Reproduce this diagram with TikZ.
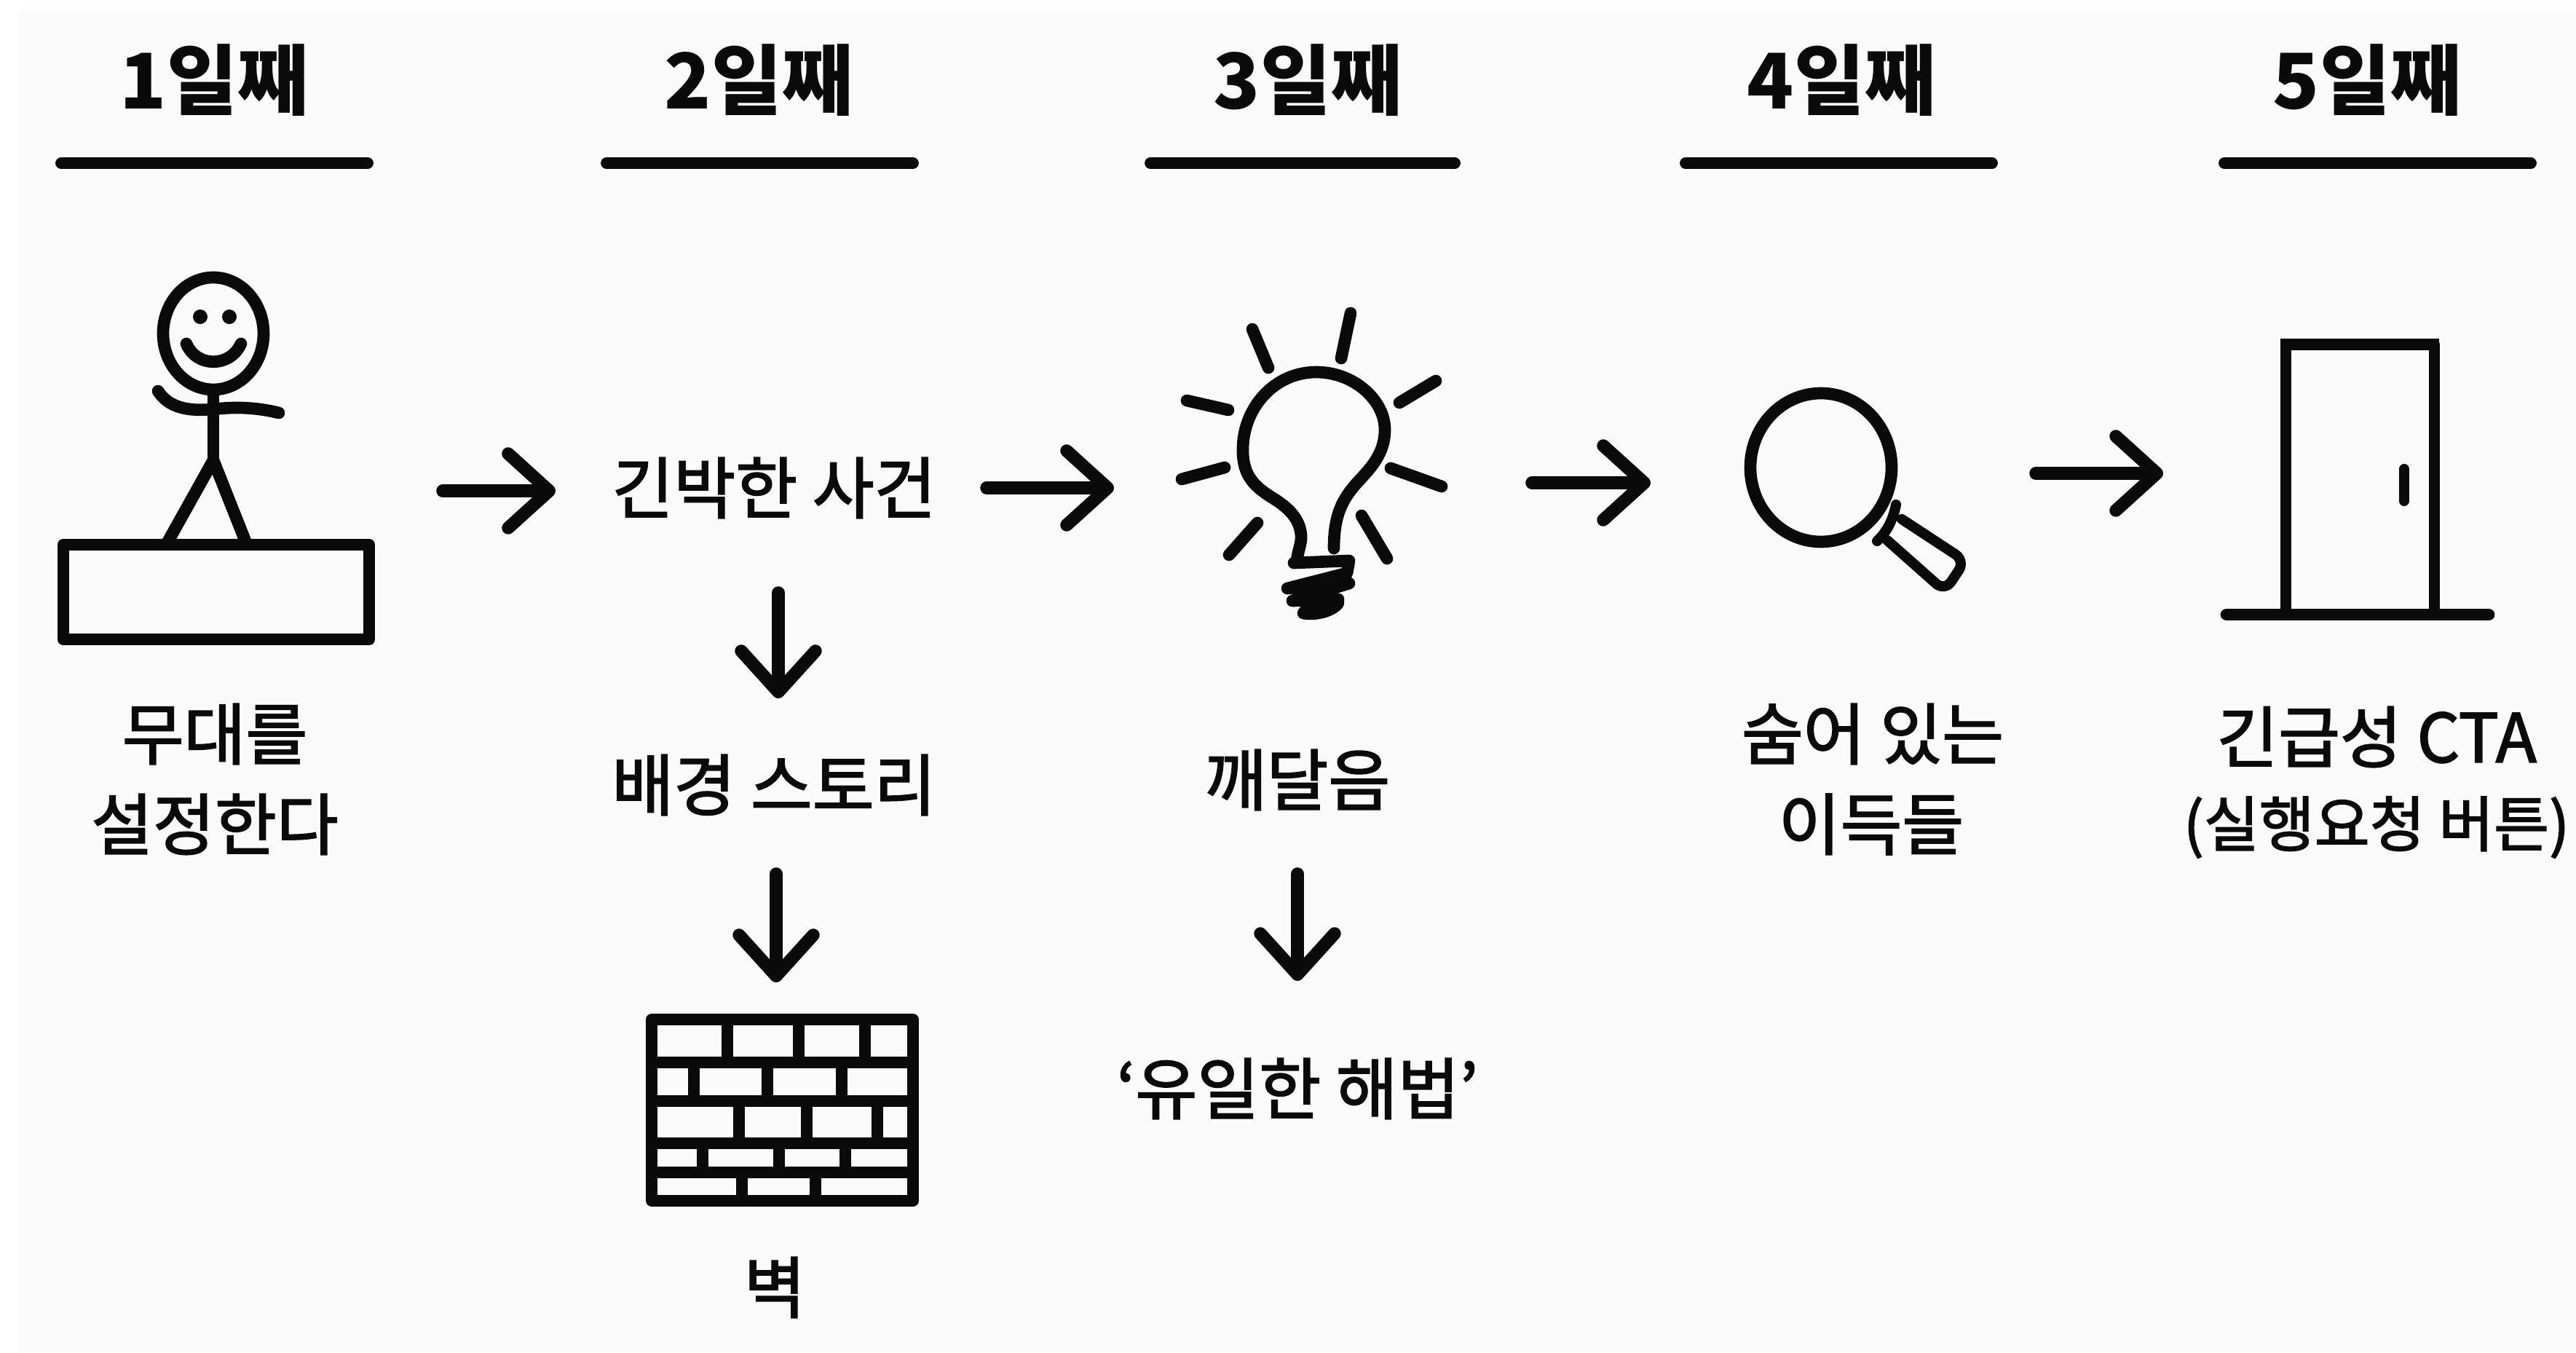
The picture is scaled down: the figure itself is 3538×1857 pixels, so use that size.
\documentclass[tikz,border=0pt]{standalone}
\usepackage{fontspec}
\usetikzlibrary{arrows.meta}
\setmainfont{Noto Sans CJK KR}
\newfontfamily\labelface[FakeBold=2]{Noto Sans CJK KR}
\definecolor{bgc}{HTML}{FAFAFA}
\definecolor{ink}{HTML}{0A0A0A}
\newcommand{\bodyfont}{\labelface\fontsize{52.5}{62}\selectfont}
\newcommand{\smallfont}{\labelface\fontsize{47}{56}\selectfont}
\newcommand{\headfont}{\fontsize{60}{70}\selectfont\bfseries}
\tikzset{
  x=0.02cm,y=-0.02cm,
  lbl/.style={inner sep=0pt,outer sep=0pt,text=ink,font=\bodyfont,align=center},
  head/.style={inner sep=0pt,outer sep=0pt,text=ink,font=\headfont},
  rulel/.style={draw=ink,line width=9pt,line cap=round},
  icon/.style={draw=ink,line width=9.5pt,line cap=round,line join=round},
  thin icon/.style={draw=ink,line width=8pt,line cap=round,line join=round},
  flow/.style={draw=ink,line width=10pt,line cap=round,
    -{Straight Barb[length=32pt,width=58pt,line width=10pt,round]}},
}
\begin{document}
\begin{tikzpicture}
\useasboundingbox (0,0) rectangle (3538,1857);
\fill[white] (0,0) rectangle (3538,1857);
\fill[bgc] (25,15) rectangle (3538,1857);
% headers
\node[head] (h1) at (294,110) {1일째};
\node[head] (h2) at (1042,110) {2일째};
\node[head] (h3) at (1796,110) {3일째};
\node[head] (h4) at (2529,110) {4일째};
\node[head] (h5) at (3251,110) {5일째};
\draw[rulel] (84,224) -- (505,224);
\draw[rulel] (833,224) -- (1254,224);
\draw[rulel] (1580,224) -- (1998,224);
\draw[rulel] (2315,224) -- (2736,224);
\draw[rulel] (3055,224) -- (3476,224);
% stick figure on the stage
\draw[icon] (87,748) rectangle (507,878);
\draw[icon] (293,458) ellipse [x radius=69,y radius=77];
\fill[ink] (275,435) circle [radius=10] (315,435) circle [radius=10];
\draw[icon] (256,472) .. controls (270,505) and (316,505) .. (331,472);
\draw[icon] (293,541) -- (293,632);
\draw[icon] (231,743) -- (293,632) -- (337,743);
\draw[icon] (217,537) .. controls (232,560) and (258,565) .. (293,562) .. controls (325,558) and (355,560) .. (383,567);
% labels
\node[lbl] (t1a) at (295,1008) {무대를};
\node[lbl] (t1b) at (295,1132) {설정한다};
\node[lbl] (t2) at (1063,670) {긴박한 사건};
\node[lbl] (t3) at (1063,1078) {배경 스토리};
\node[lbl] (t4) at (1064,1768) {벽};
\node[lbl] (t5) at (1782,1071) {깨달음};
\node[lbl] (t6) at (1782,1495) {‘유일한 해법’};
\node[lbl] (t7a) at (2572,1008) {숨어 있는};
\node[lbl] (t7b) at (2570,1132) {이득들};
\node[lbl] (t8a) at (3264,1012) {긴급성 CTA};
\node[lbl,font=\smallfont] (t8b) at (3264,1136) {(실행요청 버튼)};
% arrows
\coordinate (a1s) at (608,674); \coordinate (a1e) at (763,674);
\coordinate (a2s) at (1355,670); \coordinate (a2e) at (1530,670);
\coordinate (a3s) at (2104,663); \coordinate (a3e) at (2267,663);
\coordinate (a4s) at (2796,650); \coordinate (a4e) at (2971,650);
\coordinate (d1s) at (1069,814); \coordinate (d1e) at (1069,959);
\coordinate (d2s) at (1066,1200); \coordinate (d2e) at (1066,1349);
\coordinate (d3s) at (1782,1200); \coordinate (d3e) at (1782,1347);
\foreach \s/\e in {a1s/a1e,a2s/a2e,a3s/a3e,a4s/a4e,d1s/d1e,d2s/d2e,d3s/d3e}
  \draw[flow] (\s) -- (\e);
% wall
\begin{scope}[line width=9pt,draw=ink]
\draw[ink,line join=round] (895,1400) rectangle (1254,1649);
\foreach \yy in {1459,1512,1570,1610} \draw[ink] (895,\yy) -- (1254,\yy);
\foreach \xx in {999,1097,1188} \draw[ink] (\xx,1400) -- (\xx,1459);
\foreach \xx in {953,1054,1156} \draw[ink] (\xx,1459) -- (\xx,1512);
\foreach \xx in {1015,1108,1205} \draw[ink] (\xx,1512) -- (\xx,1570);
\foreach \xx in {965,1070,1161} \draw[ink] (\xx,1570) -- (\xx,1610);
\foreach \xx in {1019,1120} \draw[ink] (\xx,1610) -- (\xx,1649);
\end{scope}
% bulb
\draw[icon] (1720,452)--(1742,505) (1855,430)--(1842,492) (1972,523)--(1922,553)
  (1980,668)--(1910,643) (1905,767)--(1870,708) (1688,762)--(1727,718)
  (1623,658)--(1682,642) (1630,550)--(1687,563);
\draw[icon] (1781,770) .. controls (1783,755) and (1788,745) .. (1787,735)
  .. controls (1785,712) and (1770,697) .. (1745,682)
  .. controls (1720,666) and (1706,650) .. (1707,615)
  .. controls (1708,560) and (1750,511) .. (1808,511)
  .. controls (1860,511) and (1902,550) .. (1902,590)
  .. controls (1902,625) and (1880,645) .. (1862,665)
  .. controls (1845,685) and (1832,705) .. (1832,753);
\draw[icon] (1777,773) -- (1853,770) -- (1850,787) -- (1768,808) -- (1853,801) -- (1775,825) -- (1838,823);
\draw[icon] (1790,842) .. controls (1805,845) and (1830,840) .. (1838,828) .. controls (1825,822) and (1800,828) .. (1790,842) -- cycle;
% magnifier
\draw[icon] (2501,642) ellipse [x radius=97,y radius=102];
\draw[thin icon] (2604,693) .. controls (2600,715) and (2590,732) .. (2578,743);
\draw[thin icon,rounded corners=9pt] (2612,713) -- (2699,770) -- (2671,812) -- (2592,742);
% door
\draw[thin icon,line width=8.5pt,line cap=butt] (3139,844) -- (3139,473) -- (3343,473) -- (3343,844);
\draw[icon,line cap=butt] (3132,473) -- (3350,473);
\draw[icon] (3058,844) -- (3418,844);
\draw[thin icon] (3302,644) -- (3302,688);
\end{tikzpicture}
\end{document}
